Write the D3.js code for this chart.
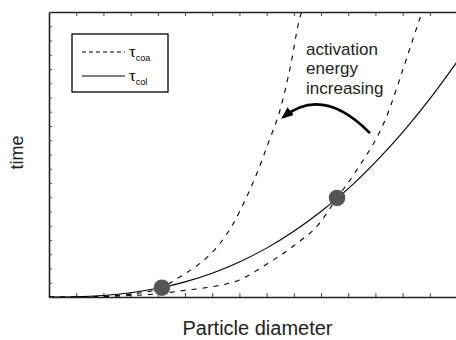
<!DOCTYPE html>
<html>
<head>
<meta charset="utf-8">
<script src="https://cdnjs.cloudflare.com/ajax/libs/d3/7.8.5/d3.min.js"></script>
<style>
  body { margin: 0; background: #fff; }
  svg { display: block; font-family: "Liberation Sans", Arial, sans-serif; }
</style>
</head>
<body>
<div id="chart"></div>
<script>
// data (x in tick units 0-15, y in tick units 0-20)
var colX = [0, 1, 2, 3, 4, 5, 6, 7, 8, 9, 10, 11, 12, 13, 14, 15];
var colY = [0, 0.02, 0.11, 0.3, 0.61, 1.06, 1.67, 2.46, 3.43, 4.61, 6.0, 7.6, 9.47, 11.56, 13.9, 16.5];

var coaSteepX = [0, 1, 2, 3, 4, 4.82, 5.55, 6.29, 6.78, 7.27, 7.69, 8.06, 8.49, 8.92, 9.17, 9.4];
var coaSteepY = [0, 0, 0.05, 0.2, 0.55, 1.42, 2.36, 3.77, 5.17, 7.04, 8.9, 10.8, 13.1, 16.6, 19.2, 20.6];

var coaShallowX = [0, 1, 2, 3, 4, 5, 6, 7, 8, 9, 9.89, 10.59, 11.24, 12.46, 13.0, 13.68, 13.9];
var coaShallowY = [0, 0, 0.03, 0.1, 0.22, 0.47, 0.72, 1.2, 2.3, 3.6, 5.05, 6.95, 8.7, 12.9, 15.9, 19.8, 21];

var crossX = [4.15, 10.59];
var crossY = [0.65, 6.95];

var xTicks = d3.range(0, 16);
var yTicks = d3.range(0, 21);

var legendLabels = ["coa", "col"];
var noteLines = ["activation", "energy", "increasing"];

var svgWidth = 456;
var svgHeight = 340;

var margin = { top: 12, right: -1, bottom: 43, left: 49 };
var width = svgWidth - margin.left - margin.right;
var height = svgHeight - margin.top - margin.bottom;

var svg = d3.select("#chart")
  .append("svg")
  .attr("width", svgWidth)
  .attr("height", svgHeight);

var chartGroup = svg.append("g")
  .attr("transform", `translate(${margin.left}, ${margin.top})`);

var xScale = d3.scaleLinear().domain([0, 15]).range([0, width]);
var yScale = d3.scaleLinear().domain([0, 20]).range([height, 0]);

svg.append("defs").append("clipPath")
  .attr("id", "plotClip")
  .append("rect")
  .attr("width", width)
  .attr("height", height);

svg.select("defs").append("marker")
  .attr("id", "head")
  .attr("markerUnits", "userSpaceOnUse")
  .attr("viewBox", "0 0 12 10")
  .attr("refX", 10)
  .attr("refY", 5)
  .attr("markerWidth", 12)
  .attr("markerHeight", 10)
  .attr("orient", "auto")
  .append("path")
  .attr("d", "M0,0 L12,5 L0,10 Z")
  .attr("fill", "#000");

// axes, ticks pointing inward
var tickStyle = function(g) {
  g.select(".domain").attr("stroke", "#222").attr("stroke-width", 1.6);
  g.selectAll(".tick line").attr("stroke", "#444").attr("stroke-width", 1);
  g.selectAll(".tick text").remove();
};

chartGroup.append("g")
  .attr("transform", `translate(0, ${height})`)
  .call(d3.axisBottom(xScale).tickValues(xTicks).tickSizeInner(-4).tickSizeOuter(0))
  .call(tickStyle);

chartGroup.append("g")
  .call(d3.axisTop(xScale).tickValues(xTicks).tickSizeInner(-4).tickSizeOuter(0))
  .call(tickStyle);

chartGroup.append("g")
  .call(d3.axisLeft(yScale).tickValues(yTicks).tickSizeInner(-3).tickSizeOuter(0))
  .call(tickStyle);

// curves
var line = d3.line()
  .x(d => xScale(d[0]))
  .y(d => yScale(d[1]))
  .curve(d3.curveMonotoneX);

var plot = chartGroup.append("g").attr("clip-path", "url(#plotClip)");

plot.append("path")
  .datum(d3.zip(coaSteepX, coaSteepY))
  .attr("d", line)
  .attr("fill", "none")
  .attr("stroke", "#000")
  .attr("stroke-width", 1.1)
  .attr("stroke-dasharray", "5,6");

plot.append("path")
  .datum(d3.zip(coaShallowX, coaShallowY))
  .attr("d", line)
  .attr("fill", "none")
  .attr("stroke", "#000")
  .attr("stroke-width", 1.1)
  .attr("stroke-dasharray", "5,6");

plot.append("path")
  .datum(d3.zip(colX, colY))
  .attr("d", line)
  .attr("fill", "none")
  .attr("stroke", "#000")
  .attr("stroke-width", 1.1);

plot.selectAll("circle")
  .data(d3.zip(crossX, crossY))
  .enter()
  .append("circle")
  .attr("cx", d => xScale(d[0]))
  .attr("cy", d => yScale(d[1]))
  .attr("r", 8.3)
  .attr("fill", "#555");

// annotation arrow (data units)
var arrowPts = [[11.8, 11.5], [10.06, 14.88], [8.6, 12.6]];
chartGroup.append("path")
  .attr("d", `M${xScale(arrowPts[0][0])},${yScale(arrowPts[0][1])} Q${xScale(arrowPts[1][0])},${yScale(arrowPts[1][1])} ${xScale(arrowPts[2][0])},${yScale(arrowPts[2][1])}`)
  .attr("fill", "none")
  .attr("stroke", "#000")
  .attr("stroke-width", 2.6)
  .attr("marker-end", "url(#head)");

chartGroup.selectAll(".note")
  .data(noteLines)
  .enter()
  .append("text")
  .attr("class", "note")
  .attr("x", xScale(9.45))
  .attr("y", (d, i) => yScale(16.98) + i * 19.3)
  .attr("font-size", 17)
  .attr("fill", "#222")
  .text(d => d);

// legend
var legend = svg.append("g");
legend.append("rect")
  .attr("x", 72)
  .attr("y", 34)
  .attr("width", 96)
  .attr("height", 58)
  .attr("fill", "#fff")
  .attr("stroke", "#000")
  .attr("stroke-width", 1.3);

legendLabels.forEach(function(lab, i) {
  var y = 52 + i * 24;
  legend.append("line")
    .attr("x1", 82).attr("x2", 125)
    .attr("y1", y).attr("y2", y)
    .attr("stroke", "#000")
    .attr("stroke-width", 1.1)
    .attr("stroke-dasharray", i == 0 ? "4,3" : null);
  var t = legend.append("text")
    .attr("x", 129)
    .attr("y", y + 5)
    .attr("font-size", 17)
    .attr("font-family", "Liberation Serif, serif")
    .text("\u03c4");
  t.append("tspan")
    .attr("dy", 4)
    .attr("font-size", 9)
    .attr("font-family", "Liberation Sans, Arial, sans-serif")
    .text(lab);
});

// axis labels
svg.append("text")
  .attr("transform", "translate(22.5, 152.5) rotate(-90)")
  .attr("text-anchor", "middle")
  .attr("font-size", 18)
  .attr("fill", "#222")
  .text("time");

svg.append("text")
  .attr("x", 257.5)
  .attr("y", 335)
  .attr("text-anchor", "middle")
  .attr("font-size", 20)
  .attr("fill", "#222")
  .text("Particle diameter");
</script>
</body>
</html>
